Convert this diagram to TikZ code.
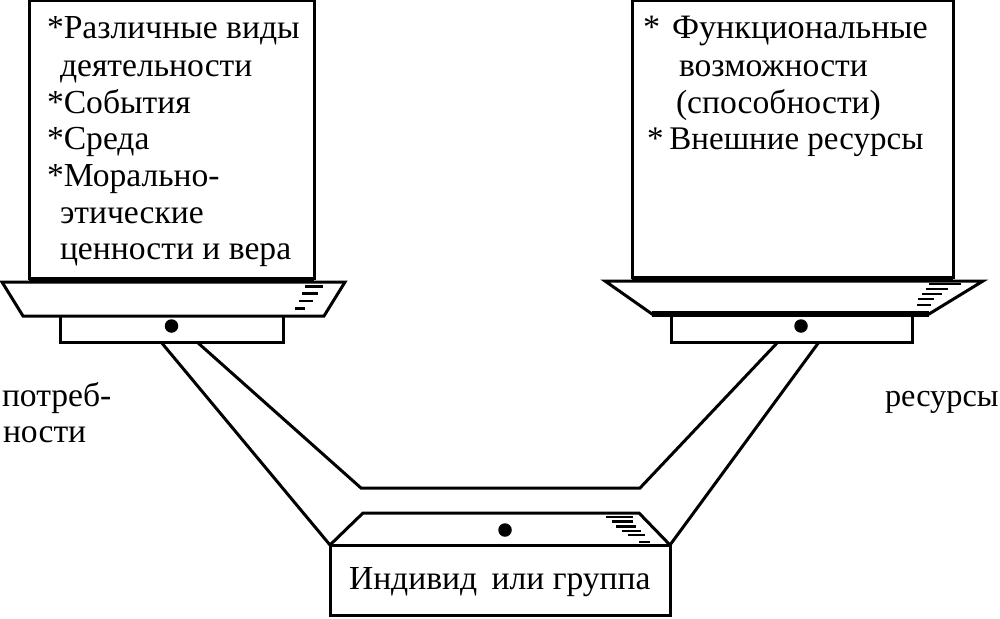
\documentclass[tikz,border=0pt]{standalone}
\usepackage{fontspec}
\setmainfont{Liberation Serif}
\tikzset{
  ln/.style={draw=black,line width=3pt,line join=miter},
  heavy/.style={draw=black,line width=5.5pt},
  thin stripe/.style={draw=black,line width=2.6pt},
  lab/.style={anchor=base west,inner sep=0pt,outer sep=0pt,font=\fontsize{33.6}{40}\selectfont,text=black},
  dotmark/.style={circle,fill=black,inner sep=0pt,minimum size=13.5pt}
}
\begin{document}
\begin{tikzpicture}[x=1pt,y=-1pt]
\useasboundingbox (0,0) rectangle (1000,618);
% left unit
\coordinate (lbA) at (29,1);\coordinate (lbB) at (314,1);\coordinate (lbC) at (314,280);\coordinate (lbD) at (29,280);
\draw[ln] (lbD)--(lbA)--(lbB)--(lbC);
\draw[heavy] (lbD)--(lbC);
\coordinate (ltA) at (2,282);\coordinate (ltB) at (345,282);\coordinate (ltC) at (324,316);\coordinate (ltD) at (23,316);
\draw[ln] (ltA)--(ltB)--(ltC)--(ltD)--cycle;
\coordinate (lrA) at (60,316);\coordinate (lrB) at (283,316);\coordinate (lrC) at (283,342);\coordinate (lrD) at (60,342);
\draw[ln] (lrA)--(lrD)--(lrC)--(lrB);
\node[dotmark] (ldot) at (171.5,326) {};
\foreach \a/\b/\y in {305/323/286.5,302/318/293.5,299/313/301,295/305/308.5}{\draw[thin stripe] (\a,\y)--(\b,\y);}
% right unit
\coordinate (rbA) at (632,1);\coordinate (rbB) at (953,1);\coordinate (rbC) at (953,279);\coordinate (rbD) at (632,279);
\draw[ln] (rbD)--(rbA)--(rbB)--(rbC);
\draw[heavy] (rbD)--(rbC);
\coordinate (rtA) at (605,281);\coordinate (rtB) at (983,281);\coordinate (rtC) at (929,314);\coordinate (rtD) at (652,314);
\draw[ln] (rtA)--(rtB)--(rtC)--(rtD)--cycle;
\draw[heavy] (rtD)--(rtC);
\coordinate (rrA) at (671,315);\coordinate (rrB) at (912,315);\coordinate (rrC) at (912,342);\coordinate (rrD) at (671,342);
\draw[ln] (rrA)--(rrD)--(rrC)--(rrB);
\node[dotmark] (rdot) at (801,326) {};
\foreach \a/\b/\y in {929/961/284,926/948/289,922/942/294,918/934/299,917/931/305}{\draw[thin stripe] (\a,\y)--(\b,\y);}
% bottom unit
\coordinate (bbA) at (330,545);\coordinate (bbB) at (670,545);\coordinate (bbC) at (670,615);\coordinate (bbD) at (330,615);
\draw[ln] (bbA)--(bbB)--(bbC)--(bbD)--cycle;
\coordinate (btA) at (363,513);\coordinate (btB) at (639,513);
\draw[ln] (bbA)--(btA)--(btB)--(bbB);
\node[dotmark] (bdot) at (505,530) {};
\foreach \a/\b/\y in {606/633/517,612/633/521.5,616/636/526.5,622/641/531,628/645/535,639/650/542}{\draw[thin stripe] (\a,\y)--(\b,\y);}
% connectors
\coordinate (cA) at (161,342);\coordinate (cB) at (197,342);\coordinate (cC) at (361,488);\coordinate (cD) at (640,488);\coordinate (cE) at (778,342);\coordinate (cF) at (819,342);
\draw[ln] (cA)--(bbA);
\draw[ln] (cB)--(cC)--(cD)--(cE);
\draw[ln] (cF)--(bbB);
% text
\node[lab] (t1) at (47,39) {*Различные виды};
\node[lab] (t2) at (60,76) {деятельности};
\node[lab] (t3) at (47,113) {*События};
\node[lab] (t4) at (47,149) {*Среда};
\node[lab] (t5) at (47,186) {*Морально-};
\node[lab] (t6) at (60,223) {этические};
\node[lab] (t7) at (60,259) {ценности и вера};
\node[lab,font=\fontsize{34.2}{40}\selectfont] (r1) at (643,39) {*\hspace{12pt}Функциональные};
\node[lab] (r2) at (679,76) {возможности};
\node[lab] (r3) at (676,113) {(способности)};
\node[lab,font=\fontsize{33}{40}\selectfont] (r4) at (647,149) {*\hspace{6pt}Внешние ресурсы};
\node[lab] (p1) at (2,406) {потреб-};
\node[lab] (p2) at (3,442) {ности};
\node[lab,font=\fontsize{32.3}{40}\selectfont] (p3) at (885,406) {ресурсы};
\node[lab] (g1) at (349,589) {Индивид\hspace{6pt} или группа};
\end{tikzpicture}
\end{document}
